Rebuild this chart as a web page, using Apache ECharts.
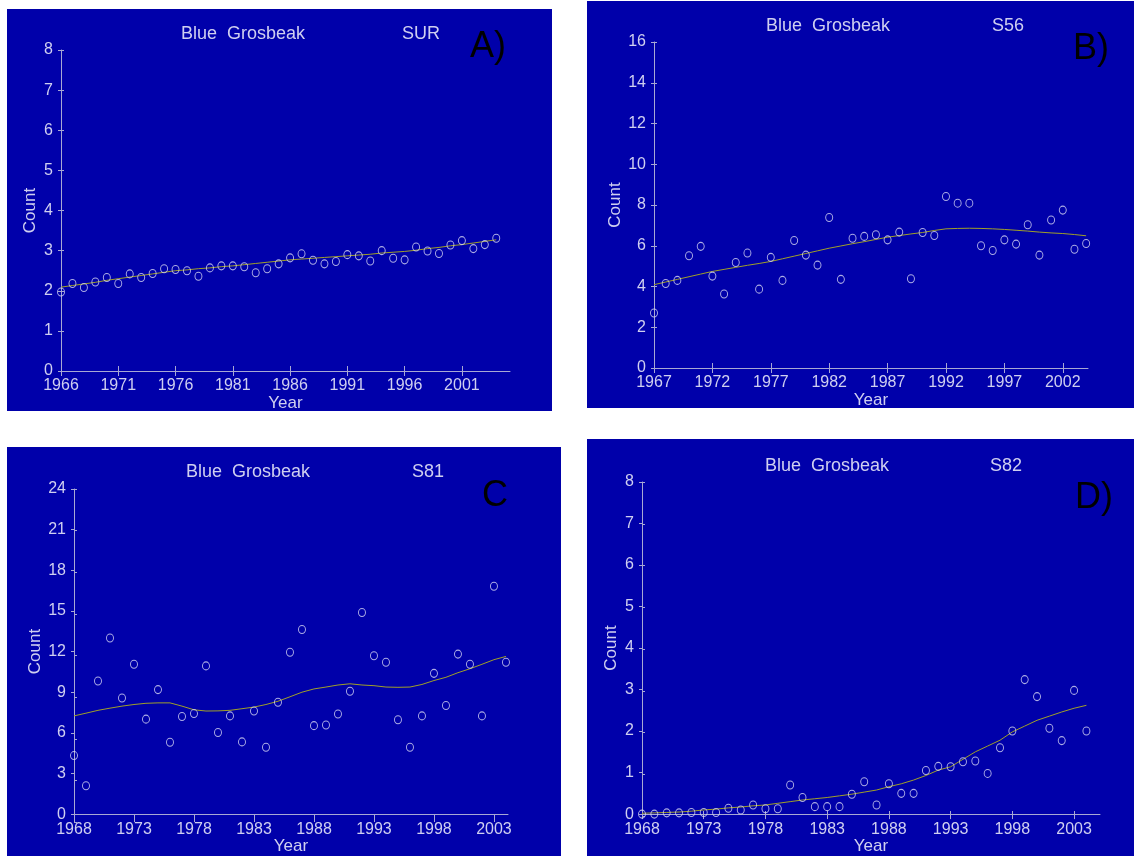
<!DOCTYPE html>
<html><head><meta charset="utf-8">
<script src="https://cdn.jsdelivr.net/npm/echarts@6/dist/echarts.min.js"></script>
<style>html,body{margin:0;padding:0;background:#fff}#c{width:1134px;height:856px}</style>
</head><body><div id="c"></div><script>
// ---------- DATA ----------
const species = 'Blue  Grosbeak';

const yearsA = [1966,1967,1968,1969,1970,1971,1972,1973,1974,1975,1976,1977,1978,1979,1980,1981,1982,1983,1984,1985,1986,1987,1988,1989,1990,1991,1992,1993,1994,1995,1996,1997,1998,1999,2000,2001,2002,2003,2004];
const countsA = [1.97,2.18,2.08,2.22,2.33,2.18,2.42,2.33,2.43,2.55,2.53,2.50,2.36,2.57,2.62,2.62,2.60,2.45,2.55,2.67,2.82,2.92,2.76,2.67,2.73,2.90,2.87,2.74,3.00,2.81,2.77,3.09,2.99,2.93,3.14,3.25,3.05,3.15,3.31];
const trendA = [2.09,2.13,2.17,2.21,2.26,2.30,2.34,2.38,2.42,2.46,2.50,2.52,2.55,2.57,2.60,2.62,2.65,2.68,2.71,2.74,2.77,2.79,2.81,2.83,2.85,2.87,2.89,2.91,2.94,2.96,2.98,3.01,3.05,3.08,3.12,3.15,3.19,3.23,3.27];
const xTicksA = [1966,1971,1976,1981,1986,1991,1996,2001];
const yTicksA = [0,1,2,3,4,5,6,7,8];

const yearsB = [1967,1968,1969,1970,1971,1972,1973,1974,1975,1976,1977,1978,1979,1980,1981,1982,1983,1984,1985,1986,1987,1988,1989,1990,1991,1992,1993,1994,1995,1996,1997,1998,1999,2000,2001,2002,2003,2004];
const countsB = [2.70,4.15,4.30,5.51,5.97,4.51,3.63,5.18,5.64,3.87,5.43,4.30,6.26,5.54,5.05,7.39,4.35,6.37,6.46,6.54,6.29,6.67,4.38,6.65,6.50,8.42,8.09,8.09,6.00,5.77,6.29,6.08,7.03,5.54,7.26,7.75,5.83,6.11];
const trendB = [4.09,4.22,4.35,4.48,4.61,4.74,4.84,4.94,5.04,5.13,5.23,5.36,5.49,5.62,5.75,5.88,5.99,6.10,6.20,6.31,6.42,6.50,6.58,6.65,6.75,6.83,6.85,6.86,6.85,6.83,6.80,6.76,6.72,6.67,6.63,6.60,6.55,6.49];
const xTicksB = [1967,1972,1977,1982,1987,1992,1997,2002];
const yTicksB = [0,2,4,6,8,10,12,14,16];

const yearsC = [1968,1969,1970,1971,1972,1973,1974,1975,1976,1977,1978,1979,1980,1981,1982,1983,1984,1985,1986,1987,1988,1989,1990,1991,1992,1993,1994,1995,1996,1997,1998,1999,2000,2001,2002,2003,2004];
const countsC = [4.32,2.09,9.82,13.0,8.57,11.06,7.01,9.19,5.30,7.20,7.42,10.94,6.02,7.25,5.33,7.61,4.94,8.26,11.95,13.63,6.53,6.58,7.39,9.07,14.88,11.69,11.21,6.96,4.94,7.25,10.39,8.02,11.81,11.06,7.25,16.82,11.21];
const trendC = [7.25,7.45,7.66,7.82,7.97,8.09,8.18,8.21,8.21,7.97,7.70,7.61,7.62,7.66,7.78,7.90,8.09,8.33,8.66,9.00,9.24,9.38,9.53,9.62,9.53,9.48,9.38,9.36,9.38,9.57,9.86,10.10,10.44,10.73,11.06,11.40,11.64];
const xTicksC = [1968,1973,1978,1983,1988,1993,1998,2003];
const yTicksC = [0,3,6,9,12,15,18,21,24];

const yearsD = [1968,1969,1970,1971,1972,1973,1974,1975,1976,1977,1978,1979,1980,1981,1982,1983,1984,1985,1986,1987,1988,1989,1990,1991,1992,1993,1994,1995,1996,1997,1998,1999,2000,2001,2002,2003,2004];
const countsD = [0.0,0.0,0.03,0.03,0.04,0.04,0.04,0.14,0.10,0.22,0.13,0.13,0.70,0.40,0.18,0.18,0.18,0.48,0.78,0.22,0.73,0.50,0.50,1.05,1.15,1.14,1.26,1.28,0.98,1.60,2.00,3.24,2.83,2.07,1.77,2.98,2.00];
const trendD = [0.02,0.03,0.04,0.05,0.07,0.10,0.12,0.15,0.17,0.20,0.22,0.26,0.30,0.34,0.37,0.40,0.44,0.48,0.53,0.58,0.66,0.73,0.82,0.93,1.06,1.14,1.32,1.50,1.64,1.78,1.98,2.12,2.26,2.36,2.46,2.55,2.62];
const xTicksD = [1968,1973,1978,1983,1988,1993,1998,2003];
const yTicksD = [0,1,2,3,4,5,6,7,8];

const routes = ['SUR','S56','S81','S82'];
const letters = ['A)','B)','C','D)'];

// ---------- LAYOUT / STYLE ----------
const BLUE = '#0000AA', AX = '#A8A8D4', TXT = '#CFCFF0', PT = '#D8D8F4', TREND = '#A0A028';
const FONT = '"Liberation Sans", Arial, sans-serif';

const panels = [
  {years:yearsA, counts:countsA, trend:trendA, xTicks:xTicksA, yTicks:yTicksA,
   bg:[7,9,545,402], grid:{left:61,top:50,width:449,height:321}, xMin:1966, xMax:2005.2,
   titlePos:[181,34], routePos:[402,34], letterPos:[470,47]},
  {years:yearsB, counts:countsB, trend:trendB, xTicks:xTicksB, yTicks:yTicksB,
   bg:[587,1,547,407], grid:{left:654,top:42,width:434,height:326}, xMin:1967, xMax:2004.16,
   titlePos:[766,26], routePos:[992,26], letterPos:[1073,49]},
  {years:yearsC, counts:countsC, trend:trendC, xTicks:xTicksC, yTicks:yTicksC,
   bg:[7,447,554,409], grid:{left:74,top:489,width:434,height:333}, xMin:1968, xMax:2004.17,
   titlePos:[186,472], routePos:[412,472], letterPos:[482,496]},
  {years:yearsD, counts:countsD, trend:trendD, xTicks:xTicksD, yTicks:yTicksD,
   bg:[587,439,547,417], grid:{left:642,top:482,width:458,height:334}, xMin:1968, xMax:2005.1,
   titlePos:[765,466], routePos:[990,466], letterPos:[1075,498]}
];

const grids=[], xAxes=[], yAxes=[], series=[], graphics=[];
panels.forEach((p,i)=>{
  graphics.push({type:'rect', shape:{x:p.bg[0],y:p.bg[1],width:p.bg[2],height:p.bg[3]}, style:{fill:BLUE}, z:-100, silent:true});
  graphics.push({type:'text', x:p.titlePos[0], y:p.titlePos[1], style:{text:species, fill:TXT, font:'18px '+FONT, textAlign:'left', textVerticalAlign:'middle'}, silent:true});
  graphics.push({type:'text', x:p.routePos[0], y:p.routePos[1], style:{text:routes[i], fill:TXT, font:'18px '+FONT, textAlign:'left', textVerticalAlign:'middle'}, silent:true});
  graphics.push({type:'text', x:p.letterPos[0], y:p.letterPos[1], style:{text:letters[i], fill:'#000', font:'36px '+FONT, textAlign:'left', textVerticalAlign:'middle'}, silent:true});

  const ymax = p.yTicks[p.yTicks.length-1], yint = p.yTicks[1]-p.yTicks[0];
  grids.push(Object.assign({}, p.grid), Object.assign({}, p.grid));
  const g = i*2;
  xAxes.push({type:'value', gridIndex:g, min:p.xMin, max:p.xMax,
    name:'Year', nameLocation:'middle', nameGap:22,
    nameTextStyle:{color:TXT, fontSize:17, fontFamily:FONT},
    axisLine:{onZero:false, lineStyle:{color:AX, width:1}},
    axisTick:{length:5, customValues:p.xTicks, lineStyle:{color:AX}},
    axisLabel:{customValues:p.xTicks, margin:7, color:TXT, fontSize:16, fontFamily:FONT, formatter:v=>String(Math.round(v))},
    splitLine:{show:false}});
  xAxes.push({type:'value', gridIndex:g+1, min:p.xMin, max:p.xMax,
    axisLine:{show:false}, axisLabel:{show:false},
    axisTick:{inside:true, length:5, customValues:p.xTicks, lineStyle:{color:AX}},
    splitLine:{show:false}});
  yAxes.push({type:'value', gridIndex:g, min:0, max:ymax, interval:yint,
    name:'Count', nameLocation:'middle', nameGap:22,
    nameTextStyle:{color:TXT, fontSize:17, fontFamily:FONT},
    axisLine:{show:true, onZero:false, lineStyle:{color:AX, width:1}},
    axisTick:{show:true, length:3, lineStyle:{color:AX}},
    axisLabel:{margin:8, color:TXT, fontSize:16, fontFamily:FONT},
    splitLine:{show:false}});
  yAxes.push({type:'value', gridIndex:g+1, min:0, max:ymax, interval:yint,
    axisLine:{show:false}, axisLabel:{show:false},
    axisTick:{show:true, inside:true, length:3, lineStyle:{color:AX}},
    splitLine:{show:false}});

  series.push({type:'line', xAxisIndex:g, yAxisIndex:g, data:p.years.map((y,k)=>[y,p.trend[k]]),
    showSymbol:false, symbol:'none', lineStyle:{color:TREND, width:1}, silent:true, z:2});
  series.push({type:'scatter', xAxisIndex:g, yAxisIndex:g, data:p.years.map((y,k)=>[y,p.counts[k]]),
    symbol:'circle', symbolSize:[7,8], itemStyle:{color:'rgba(0,0,0,0)', borderColor:PT, borderWidth:1}, silent:true, z:3});
});

const chart = echarts.init(document.getElementById('c'), null, {renderer:'canvas'});
chart.setOption({animation:false, backgroundColor:'#ffffff', grid:grids, xAxis:xAxes, yAxis:yAxes, series:series, graphic:graphics});
</script></body></html>
